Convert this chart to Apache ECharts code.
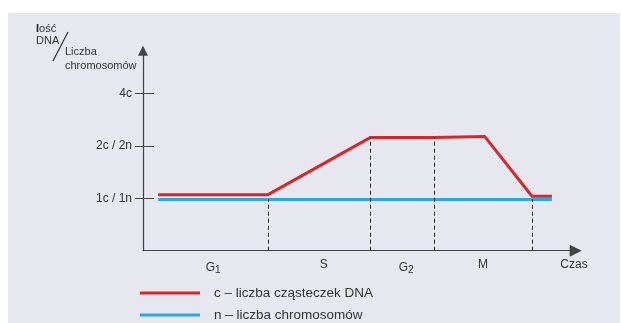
<!DOCTYPE html>
<html><head><meta charset="utf-8">
<script src="https://cdn.jsdelivr.net/npm/echarts@6/dist/echarts.min.js"></script>
<style>html,body{margin:0;padding:0;background:#fff}#c{width:621px;height:323px}</style>
</head><body><div id="c"></div>
<script>
// ---- data ----
const dnaName = 'c \u2013 liczba cząsteczek DNA';
const chromName = 'n \u2013 liczba chromosomów';
const dnaTime = [3.5, 28.9, 52.5, 67.3, 79.0, 89.9, 94.5];
const dnaValue = [1.07, 1.07, 2.16, 2.16, 2.18, 1.04, 1.04];
const chromTime = [3.5, 94.5];
const chromValue = [0.98, 0.98];
const phaseBoundTime = [28.9, 52.5, 67.3, 89.9];
const phaseBoundTop = [0.98, 2.16, 2.16, 0.98];
const phaseLabelPos = [16.2, 41.8, 60.8, 78.6, 99.6];
const phaseLabels = ['G|1', 'S', 'G|2', 'M', 'Czas'];
const yTickValues = [1, 2, 3];
const yTickLabels = ['1c / 1n', '2c / 2n', '4c'];

const pairs = (xs, ys) => xs.map((x, i) => [x, ys[i]]);
const font = 'Liberation Sans, Arial, sans-serif';
const txt = '#333';

const chart = echarts.init(document.getElementById('c'));
const yBase = {
  type: 'value', min: 0, max: 3.82, position: 'left',
  splitLine: {show: false}
};
chart.setOption({
  animation: false,
  textStyle: {fontFamily: font},
  graphic: [
    {type: 'rect', z: -100, silent: true, shape: {x: 8, y: 13, width: 612, height: 310}, style: {fill: '#e6e7ef'}},
    {type: 'text', left: 36, top: 23, style: {text: '{b|I}ość', fill: txt, font: '11px ' + font,
      rich: {b: {fontWeight: 'bold', fontSize: 11, fill: '#222'}}}},
    {type: 'text', left: 36, top: 35, style: {text: 'DNA', fill: txt, font: '11px ' + font}},
    {type: 'text', left: 65, top: 46, style: {text: 'Liczba', fill: txt, font: '11px ' + font}},
    {type: 'text', left: 65, top: 60, style: {text: 'chromosomów', fill: txt, font: '11px ' + font}},
    {type: 'line', shape: {x1: 68, y1: 32, x2: 53, y2: 61}, style: {stroke: '#333', lineWidth: 1.2}}
  ],
  grid: {left: 143, right: 45.3, top: 50.7, bottom: 72.3, containLabel: false},
  xAxis: {
    type: 'value', min: 0, max: 100,
    axisLine: {show: true, lineStyle: {color: '#444', width: 1.2}, symbol: ['none', 'triangle'], symbolSize: [12, 12]},
    axisTick: {show: false},
    splitLine: {show: false},
    axisLabel: {
      customValues: phaseLabelPos, margin: 8, color: txt, fontSize: 12,
      formatter: (v) => {
        const i = phaseLabelPos.indexOf(v);
        if (i < 0) return '';
        const s = phaseLabels[i];
        if (s.indexOf('|') >= 0) { const p = s.split('|'); return '{m|' + p[0] + '}{s|' + p[1] + '}'; }
        return '{m|' + s + '}';
      },
      rich: {
        m: {fontSize: 12, color: txt, fontFamily: font},
        s: {fontSize: 10, color: txt, fontFamily: font, padding: [7, 0, 0, 0]}
      }
    }
  },
  yAxis: [
    Object.assign({}, yBase, {
      axisLine: {show: true, lineStyle: {color: '#444', width: 1.2}, symbol: ['none', 'triangle'], symbolSize: [10, 10]},
      axisTick: {show: true, customValues: yTickValues, length: 8, lineStyle: {color: '#444', width: 1}},
      axisLabel: {customValues: yTickValues, margin: 11, color: txt, fontSize: 12,
        formatter: (v) => { const i = yTickValues.indexOf(v); return i < 0 ? '' : yTickLabels[i]; }}
    }),
    Object.assign({}, yBase, {
      axisLine: {show: false},
      axisTick: {show: true, inside: true, customValues: yTickValues, length: 11, lineStyle: {color: '#444', width: 1}},
      axisLabel: {show: false}
    })
  ],
  legend: {
    orient: 'vertical', left: 140, top: 285, itemGap: 6, padding: 0, height: 40,
    itemWidth: 60, itemHeight: 3, icon: 'rect',
    textStyle: {fontSize: 13.5, color: txt, lineHeight: 16, padding: [0, 0, 0, 9], fontFamily: font},
    data: [dnaName, chromName]
  },
  series: [
    {
      name: chromName, type: 'line', data: pairs(chromTime, chromValue), showSymbol: false, symbol: 'none',
      lineStyle: {color: '#2aa9e0', width: 3}, itemStyle: {color: '#2aa9e0'}, z: 3,
      markLine: {
        silent: true, symbol: ['none', 'none'], label: {show: false},
        lineStyle: {color: '#222', type: [4, 3], width: 1},
        data: phaseBoundTime.map((t, i) => [{coord: [t, 0]}, {coord: [t, phaseBoundTop[i]]}])
      }
    },
    {
      name: dnaName, type: 'line', data: pairs(dnaTime, dnaValue), showSymbol: false, symbol: 'none',
      lineStyle: {color: '#d4282d', width: 3}, itemStyle: {color: '#d4282d'}, z: 4
    }
  ]
});
</script></body></html>
